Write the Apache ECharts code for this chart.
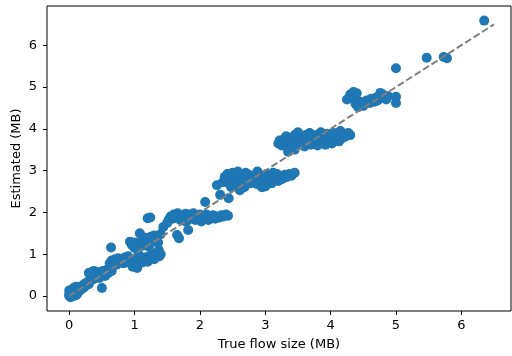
<!DOCTYPE html>
<html>
<head>
<meta charset="utf-8">
<script src="https://cdn.jsdelivr.net/npm/echarts@6/dist/echarts.min.js"></script>
<style>
  html, body { margin: 0; padding: 0; background: #fff; }
  #main { width: 512px; height: 356px; }
</style>
</head>
<body>
<div id="main"></div>
<script>
// [true size, estimated] in MB
var nearZero = [
	[0,0],[0.01,0.02],[0.02,-0.03],[0.03,0.05],[0.04,0.01],[0.05,0.08],[0.06,0.03],[0.07,0.11],
	[0.08,0.05],[0.09,0.14],[0.1,0.07],[0.11,0.12],[0.12,0.16],[0.13,0.09],[0.14,0.18],[0.15,0.13],
	[0.16,0.2],[0.17,0.15],[0.18,0.22],[0.19,0.17],[0.2,0.24],[0.21,0.19],[0.22,0.27],[0.23,0.21],
	[0.24,0.29],[0.25,0.25],[0.02,0.1],[0,0.13],[0.01,0.07],[0.03,-0.01],[0.05,0.02],[0.07,0],
	[0.1,0.02],[0.12,0.04],[0,0.04],[0.04,0.15],[0.06,0.18],[0.08,0.2],[0.11,0.22],[0.14,0.1]
];
var small = [
	[0.27,0.32],[0.3,0.28],[0.32,0.38],[0.33,0.45],[0.35,0.58],[0.37,0.4],[0.4,0.47],[0.42,0.55],
	[0.44,0.5],[0.46,0.43],[0.48,0.58],[0.5,0.52],[0.52,0.6],[0.55,0.48],[0.57,0.62],[0.6,0.55],
	[0.62,0.68],[0.65,0.6],[0.5,0.19],[0.64,1.16],[0.3,0.55],[0.38,0.6]
];
var oneMB = [
	[0.62,0.78],[0.65,0.85],[0.68,0.82],[0.7,0.88],[0.72,0.75],[0.75,0.9],[0.78,0.8],[0.8,0.86],
	[0.83,0.78],[0.85,0.92],[0.88,0.83],[0.9,0.95],[0.92,0.8],[0.95,0.88],[0.97,0.7],[1.0,0.82],
	[1.02,0.9],[1.04,0.67],[1.05,0.78],[1.08,0.95],[1.1,0.85],[1.12,0.8],[1.15,0.92],[1.18,0.88],
	[1.2,0.82],[1.22,0.95],[1.25,0.9],[1.28,1.0],[1.3,0.88],[1.33,0.95],[1.35,1.05],[1.37,1.1],
	[1.38,0.95],[1.4,1.0],
	[0.93,1.3],[0.96,1.22],[1.0,1.15],[1.02,1.28],[1.05,1.1],[1.08,1.5],[1.1,1.3],[1.12,1.2],
	[1.15,1.4],[1.18,1.25],[1.2,1.35],[1.22,1.18],[1.25,1.42],[1.28,1.3],[1.3,1.45],[1.33,1.38],
	[1.36,1.28],[1.4,1.48],[1.2,1.86],[1.24,1.88],[1.44,1.65]
];
var twoMB = [
	[1.52,1.82],[1.55,1.9],[1.58,1.85],[1.6,1.95],[1.63,1.88],[1.66,1.98],[1.7,1.82],[1.72,1.92],
	[1.75,1.87],[1.78,1.97],[1.8,1.8],[1.83,1.9],[1.85,1.95],[1.88,1.85],[1.9,1.98],[1.93,1.82],
	[1.95,1.92],[1.98,1.88],[2.0,1.95],[2.02,1.78],[2.05,1.9],[2.08,1.85],[2.1,1.95],[2.13,1.82],
	[2.15,1.9],[2.18,1.88],[2.2,1.93],[2.23,1.85],[2.26,1.9],[2.3,1.88],[2.33,1.93],[2.36,1.9],
	[2.4,1.95],[2.43,1.92],[1.65,1.46],[1.68,1.38],[1.82,1.58],[2.08,2.25],[1.5,1.75],[1.78,1.78]
];
var threeMB = [
	[2.26,2.65],[2.31,2.42],[2.44,2.34],[2.61,2.53],[2.95,2.6],
	[2.35,2.72],[2.38,2.85],[2.4,2.78],[2.42,2.92],[2.45,2.68],[2.47,2.82],[2.5,2.95],[2.52,2.75],
	[2.55,2.88],[2.57,2.65],[2.6,2.8],[2.62,2.92],[2.65,2.72],[2.67,2.85],[2.7,2.95],[2.72,2.78],
	[2.75,2.9],[2.77,2.7],[2.8,2.85],[2.82,2.75],[2.85,2.9],[2.87,2.68],[2.9,2.82],[2.92,2.72],
	[2.95,2.88],[2.97,2.65],[3.0,2.8],[3.02,2.92],[3.05,2.75],[3.08,2.85],[3.1,2.7],[3.13,2.88],
	[3.15,2.8],[3.18,2.92],[3.2,2.75],[3.23,2.85],[3.26,2.8],[3.3,2.9],[3.33,2.85],[3.37,2.92],
	[3.4,2.88],[3.45,2.95],[2.48,2.6],[2.58,2.98],[2.68,2.6],[2.88,2.98],[3.0,2.62],[3.12,2.95]
];
var fourMB = [
	[3.2,3.65],[3.22,3.72],[3.25,3.6],[3.28,3.75],[3.3,3.68],[3.32,3.82],[3.35,3.55],[3.37,3.7],
	[3.4,3.78],[3.42,3.62],[3.45,3.85],[3.47,3.7],[3.5,3.92],[3.52,3.65],[3.55,3.8],[3.57,3.72],
	[3.6,3.58],[3.62,3.85],[3.65,3.7],[3.68,3.9],[3.7,3.62],[3.72,3.78],[3.75,3.68],[3.78,3.85],
	[3.8,3.6],[3.82,3.75],[3.85,3.92],[3.87,3.68],[3.9,3.8],[3.92,3.62],[3.95,3.88],[3.97,3.72],
	[4.0,3.8],[4.02,3.65],[4.05,3.9],[4.08,3.72],[4.1,3.85],[4.13,3.7],[4.15,3.95],[4.18,3.78],
	[4.2,3.88],[4.23,3.82],[4.27,3.9],[4.3,3.85],[3.35,3.45],[3.45,3.5]
];
var large = [
	[4.25,4.7],[4.3,4.82],[4.33,4.75],[4.35,4.88],[4.38,4.6],[4.4,4.85],[4.42,4.52],[4.45,4.65],
	[4.5,4.55],[4.55,4.68],[4.6,4.62],[4.62,4.72],[4.67,4.65],[4.7,4.75],[4.72,4.68],[4.76,4.86],
	[4.8,4.82],[4.85,4.7],[4.88,4.78],
	[5.0,5.45],[5.0,4.77],[5.0,4.62],[5.47,5.7],[5.73,5.72],[5.78,5.69],[6.35,6.59]
];
var idealLine = [[0, 0], [6.5, 6.5]];
var xTicks = [0, 1, 2, 3, 4, 5, 6];
var yTicks = [0, 1, 2, 3, 4, 5, 6];

var points = nearZero.concat(small, oneMB, twoMB, threeMB, fourMB, large);

var chart = echarts.init(document.getElementById('main'));
var font = 'DejaVu Sans';

var option = {
	animation: false,
	backgroundColor: '#fff',
	grid: {
		left: 47, right: 1, top: 6, bottom: 45,
		outerBoundsMode: 'none',
		show: true, borderColor: '#000', borderWidth: 1
	},
	xAxis: {
		type: 'value',
		min: -0.34, max: 6.76,
		name: 'True flow size (MB)',
		nameLocation: 'middle',
		nameGap: 27,
		nameMoveOverlap: false,
		nameTextStyle: { fontFamily: font, fontSize: 13, color: '#000', verticalAlign: 'top' },
		axisLine: { show: false, onZero: false },
		axisTick: { show: true, length: 4, lineStyle: { color: '#000' }, customValues: xTicks },
		axisLabel: { fontFamily: font, fontSize: 13, color: '#000', margin: 8, customValues: xTicks },
		splitLine: { show: false }
	},
	yAxis: {
		type: 'value',
		min: -0.36, max: 6.94,
		name: 'Estimated (MB)',
		nameLocation: 'middle',
		nameGap: 24,
		nameMoveOverlap: false,
		nameTextStyle: { fontFamily: font, fontSize: 13, color: '#000' },
		axisLine: { show: false, onZero: false },
		axisTick: { show: true, length: 4, lineStyle: { color: '#000' }, customValues: yTicks },
		axisLabel: { fontFamily: font, fontSize: 13, color: '#000', margin: 10, customValues: yTicks },
		splitLine: { show: false }
	},
	series: [{
		type: 'scatter',
		data: points,
		symbolSize: 10,
		itemStyle: { color: '#1f77b4', opacity: 1 },
		z: 2
	}, {
		type: 'line',
		data: idealLine,
		symbol: 'none',
		lineStyle: { color: '#7f7f7f', width: 2, type: [7, 3] },
		z: 3
	}]
};

chart.setOption(option);
</script>
</body>
</html>
